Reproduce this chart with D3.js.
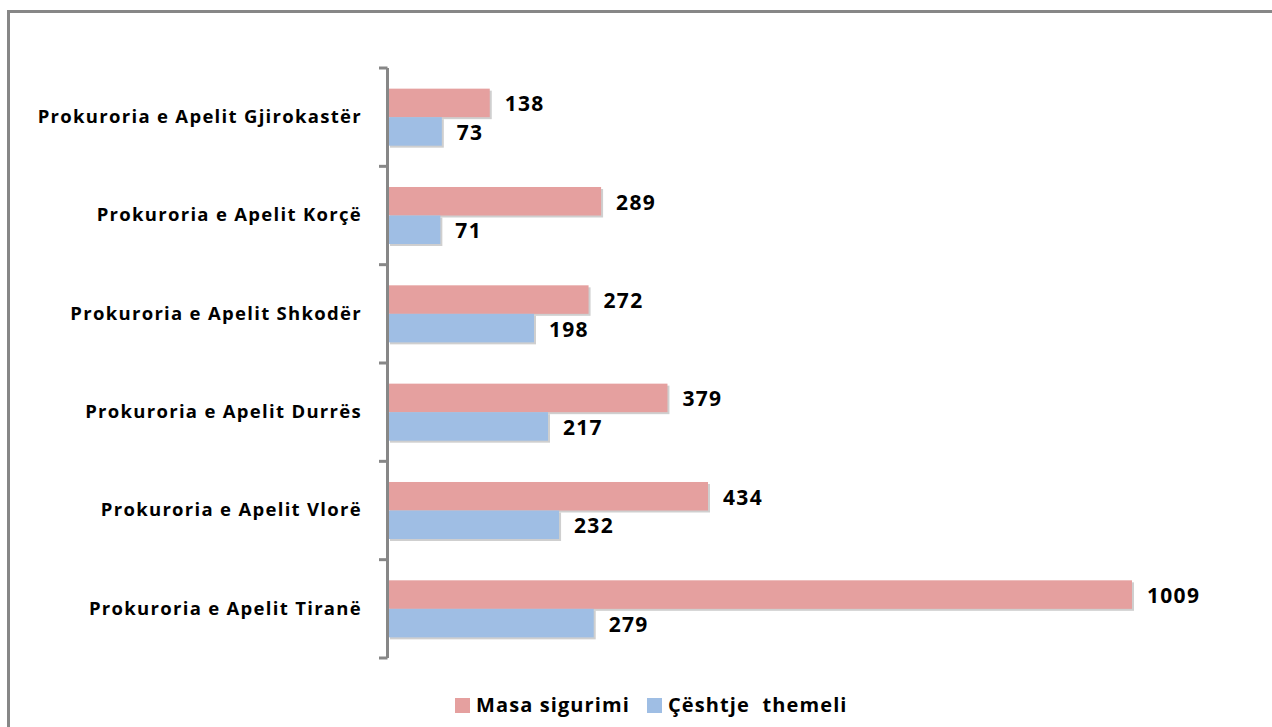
<!DOCTYPE html>
<html>
<head>
<meta charset="utf-8">
<script src="https://cdn.jsdelivr.net/npm/d3@7"></script>
<style>
  body { margin: 0; background: #fff; }
  svg { display: block; }
  text { font-family: "Open Sans", sans-serif; font-weight: bold; fill: #000; }
</style>
</head>
<body>
<div id="chart"></div>
<script>
// data
const categories = [
  "Prokuroria e Apelit Gjirokastër",
  "Prokuroria e Apelit Korçë",
  "Prokuroria e Apelit Shkodër",
  "Prokuroria e Apelit Durrës",
  "Prokuroria e Apelit Vlorë",
  "Prokuroria e Apelit Tiranë"
];
const seriesNames = ["Masa sigurimi", "Çështje  themeli"];
const masaSigurimi = [138, 289, 272, 379, 434, 1009];
const ceshtjeThemeli = [73, 71, 198, 217, 232, 279];
const colors = ["#e5a09f", "#9fbee4"];

const width = 1272, height = 727;
const margin = { top: 68, bottom: 69, left: 388, right: 140 };

const svg = d3.select("#chart").append("svg")
  .attr("width", width)
  .attr("height", height);

// outer frame (only top + left visible in the picture)
svg.append("path")
  .attr("d", "M8.5," + height + "V11.5H" + width)
  .attr("fill", "none")
  .attr("stroke", "#878787")
  .attr("stroke-width", 3);

const y = d3.scaleBand()
  .domain(categories)
  .range([margin.top, height - margin.bottom])
  .paddingInner(0.42)
  .paddingOuter(0.21);

const ySub = d3.scaleBand()
  .domain([0, 1])
  .range([0, y.bandwidth()]);

const x = d3.scaleLinear()
  .domain([0, 1009])
  .range([margin.left, 1132]);

const rows = categories.map((c, i) => ({ cat: c, vals: [masaSigurimi[i], ceshtjeThemeli[i]] }));

const g = svg.append("g");
const groups = g.selectAll("g.row")
  .data(rows)
  .join("g")
  .attr("class", "row")
  .attr("transform", d => "translate(0," + y(d.cat) + ")");

// faint shadow under bars
groups.selectAll("rect.shadow")
  .data(d => d.vals)
  .join("rect")
  .attr("class", "shadow")
  .attr("x", x(0) + 2)
  .attr("y", (d, i) => ySub(i) + 2)
  .attr("width", d => x(d) - x(0))
  .attr("height", ySub.bandwidth())
  .attr("fill", "#cfcfcf");

groups.selectAll("rect.bar")
  .data(d => d.vals)
  .join("rect")
  .attr("class", "bar")
  .attr("x", x(0))
  .attr("y", (d, i) => ySub(i))
  .attr("width", d => x(d) - x(0))
  .attr("height", ySub.bandwidth())
  .attr("fill", (d, i) => colors[i]);

groups.selectAll("text.val")
  .data(d => d.vals)
  .join("text")
  .attr("class", "val")
  .attr("x", d => x(d) + 15)
  .attr("y", (d, i) => ySub(i) + ySub.bandwidth() / 2 + 1)
  .attr("dy", "0.36em")
  .style("font-size", "21px")
  .style("letter-spacing", "1.3px")
  .text(d => d);

// category axis on the left
const yAxis = d3.axisLeft(y).tickSize(0).tickPadding(26);
const axG = svg.append("g")
  .attr("transform", "translate(" + margin.left + ",0)")
  .call(yAxis);
axG.select(".domain").remove();
axG.selectAll("text")
  .style("font-size", "18.5px")
  .style("letter-spacing", "1.3px")
  .attr("fill", "#000");

// axis line + ticks between bands
const bounds = d3.range(categories.length + 1).map(i => margin.top + i * (height - margin.top - margin.bottom) / categories.length);
svg.append("line")
  .attr("x1", margin.left - 0.5).attr("x2", margin.left - 0.5)
  .attr("y1", bounds[0]).attr("y2", bounds[bounds.length - 1])
  .attr("stroke", "#878787").attr("stroke-width", 3);
svg.selectAll("line.tk")
  .data(bounds)
  .join("line")
  .attr("class", "tk")
  .attr("x1", margin.left - 9).attr("x2", margin.left - 0.5)
  .attr("y1", d => d).attr("y2", d => d)
  .attr("stroke", "#878787").attr("stroke-width", 3);

// legend
const legend = svg.append("g").attr("transform", "translate(455,705)");
const lx = [0, 192];
seriesNames.forEach((name, i) => {
  legend.append("rect")
    .attr("x", lx[i]).attr("y", -7)
    .attr("width", 15).attr("height", 15)
    .attr("fill", colors[i]);
  legend.append("text")
    .attr("x", lx[i] + 21).attr("y", 0)
    .attr("dy", "0.36em")
    .style("font-size", "20px")
    .style("letter-spacing", "1.1px")
    .style("white-space", "pre")
    .attr("xml:space", "preserve")
    .text(name);
});
</script>
</body>
</html>
